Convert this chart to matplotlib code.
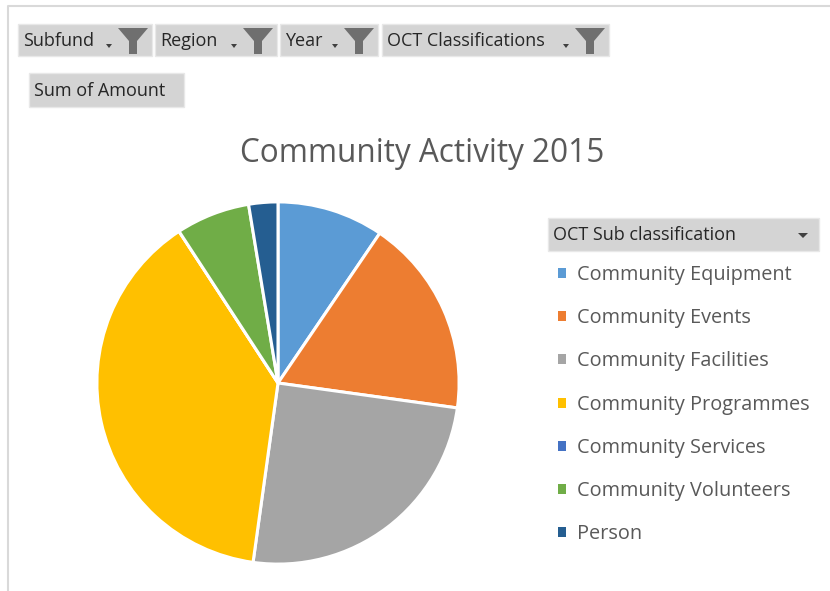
import matplotlib
matplotlib.use("Agg")
import matplotlib.pyplot as plt
from matplotlib.patches import Rectangle, Polygon

plt.rcParams['font.family'] = ['Open Sans', 'DejaVu Sans']

title = "Community Activity 2015"
categories = ["Community Equipment", "Community Events", "Community Facilities",
              "Community Programmes", "Community Services", "Community Volunteers",
              "Person"]
shares = [9.5, 17.7, 25.0, 38.6, 0.0, 6.6, 2.6]
colors = ["#5B9BD5", "#ED7D31", "#A5A5A5", "#FFC000", "#4472C4", "#70AD47", "#255E91"]
filters = ["Subfund", "Region", "Year", "OCT Classifications"]
value_field = "Sum of Amount"
legend_title = "OCT Sub classification"

W, H = 830, 591
fig = plt.figure(figsize=(W / 100, H / 100), dpi=100)

# background layer in pixel coords
bg = fig.add_axes([0, 0, 1, 1])
bg.set_xlim(0, W)
bg.set_ylim(H, 0)
bg.axis("off")
bg.plot([8, 8, W], [H, 6, 6], color="#d9d9d9", lw=1.5)


def button(x0, x1, y0, y1, text, funnel=False, arrow=False):
    bg.add_patch(Rectangle((x0, y0), x1 - x0, y1 - y0, facecolor="#d4d4d4",
                           edgecolor="#e8e8e8", lw=1))
    bg.text(x0 + 5, (y0 + y1) / 2 + 1, text, fontsize=13, color="#262626",
            va="center", ha="left")
    if funnel:
        fx = x1 - 19
        bg.add_patch(Polygon([(fx - 15, y0 + 4), (fx + 15, y0 + 4), (fx + 4, y0 + 17),
                              (fx + 4, y1 - 2), (fx - 4, y1 - 2), (fx - 4, y0 + 17)],
                             closed=True, facecolor="#6f6f6f", edgecolor="none"))
        bg.add_patch(Polygon([(fx - 27, y1 - 12), (fx - 21, y1 - 12), (fx - 24, y1 - 8)],
                             closed=True, facecolor="#404040", edgecolor="none"))
    if arrow:
        bg.add_patch(Polygon([(x1 - 21, y0 + 15), (x1 - 11, y0 + 15), (x1 - 16, y0 + 20)],
                             closed=True, facecolor="#404040", edgecolor="none"))


edges = [(18, 152), (155, 277), (280, 378), (382, 609)]
for (x0, x1), name in zip(edges, filters):
    button(x0, x1, 24, 56, name, funnel=True)
button(29, 184, 73, 107, value_field)
button(548, 819, 218, 251, legend_title, arrow=True)

bg.text(422, 153, title, fontsize=22.7, color="#595959", ha="center", va="center")

# pie
cx, cy, r = 278, 383, 182
ax = fig.add_axes([(cx - r) / W, (H - cy - r) / H, 2 * r / W, 2 * r / H])
wedges, _ = ax.pie(shares, colors=colors, startangle=90, counterclock=False,
                   wedgeprops=dict(edgecolor="white", linewidth=2.2))
ax.set_xlim(-1.005, 1.005)
ax.set_ylim(-1.005, 1.005)

leg = fig.legend(wedges, categories, loc="upper left",
                 bbox_to_anchor=(558 / W, 1 - 265 / H), frameon=False,
                 fontsize=14.3, labelcolor="#595959", handlelength=0.4,
                 handleheight=0.4, handletextpad=0.55, labelspacing=1.17,
                 borderaxespad=0, borderpad=0)
for h in leg.legend_handles:
    h.set_edgecolor("none")

fig.savefig("out.png", dpi=100, facecolor="white")
